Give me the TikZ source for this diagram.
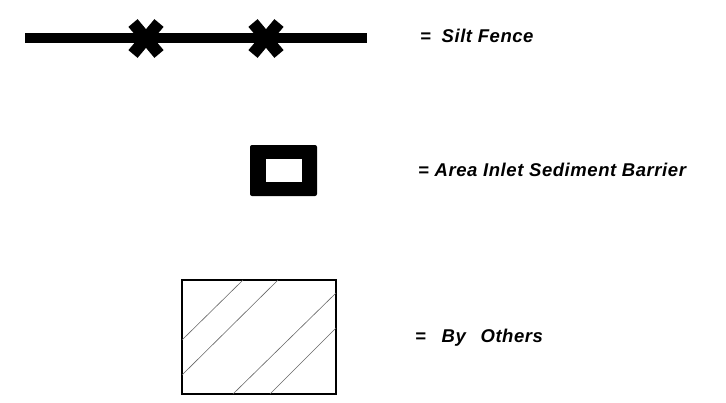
\documentclass[tikz,border=0pt]{standalone}
\usepackage{fontspec}
\setmainfont{Liberation Sans}
\begin{document}
\begin{tikzpicture}[x=1pt,y=-1pt,
  lbl/.style={anchor=west,inner sep=0pt,font=\fontsize{18.5}{22}\selectfont\bfseries\itshape\addfontfeatures{LetterSpace=3}},
  xmark/.style={line width=12pt,line cap=butt},
  hatch/.style={gray!80!black,line width=0.6pt}]
\useasboundingbox (0,0) rectangle (726,402);
% silt fence
\coordinate (sfA) at (25,38);
\coordinate (sfB) at (367,38);
\draw[line width=10pt] (sfA) -- (sfB);
\foreach \cx in {146,266}{
  \draw[xmark] (\cx-13,23) -- (\cx+13,54);
  \draw[xmark] (\cx+13,23) -- (\cx-13,54);
}
\node[lbl] (t1) at (420,36) {=\hspace{5pt} Silt Fence};
% area inlet sediment barrier
\fill[rounded corners=2pt] (250,145) rectangle (317,196);
\fill[white] (266,159) rectangle (302,182);
\node (aisb) at (283.5,170.5) {};
\node[lbl] (t2) at (418,170) {= Area Inlet Sediment Barrier};
% by others
\draw[line width=1.2pt] (182,280) rectangle (336,394);
\draw[hatch] (182,340) -- (243,280);
\draw[hatch] (182,375) -- (278,280);
\draw[hatch] (233,394) -- (336,293);
\draw[hatch] (270,394) -- (336,328);
\node[lbl] (t3) at (415,338) {=\hspace{10pt} By\hspace{9pt} Others};
\end{tikzpicture}
\end{document}
